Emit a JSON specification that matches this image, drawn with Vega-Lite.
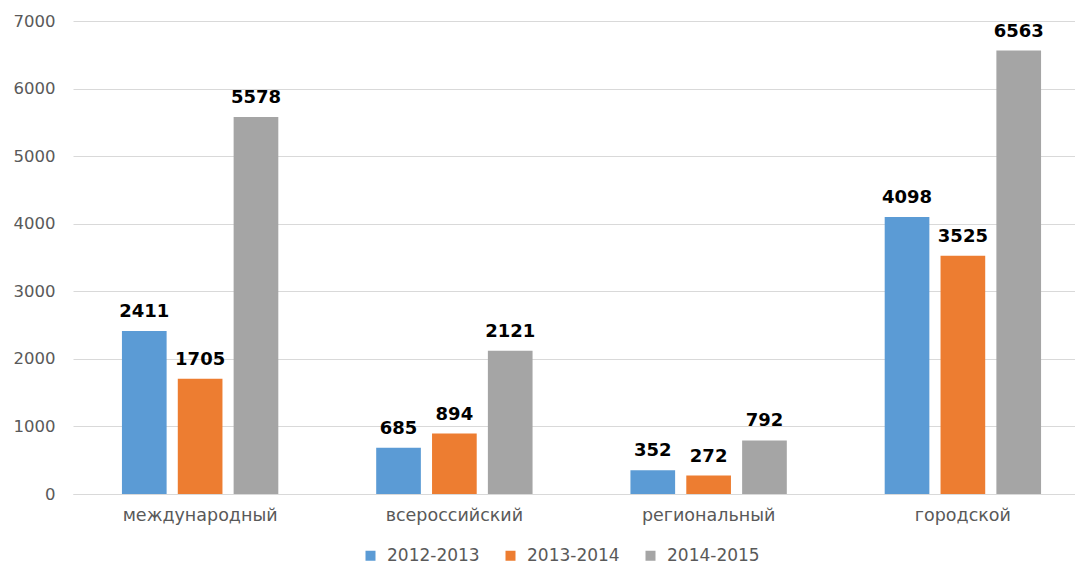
{
  "$schema": "https://vega.github.io/schema/vega-lite/v6.json",
  "autosize": "none",
  "width": 1017,
  "height": 473,
  "padding": {"left": 73, "top": 21, "right": 0, "bottom": 71},
  "background": "white",
  "config": {
    "view": {"stroke": null},
    "font": "DejaVu Sans"
  },
  "data": {
    "values": [
      {"category": "международный", "period": "2012-2013", "value": 2411},
      {"category": "международный", "period": "2013-2014", "value": 1705},
      {"category": "международный", "period": "2014-2015", "value": 5578},
      {"category": "всероссийский", "period": "2012-2013", "value": 685},
      {"category": "всероссийский", "period": "2013-2014", "value": 894},
      {"category": "всероссийский", "period": "2014-2015", "value": 2121},
      {"category": "региональный", "period": "2012-2013", "value": 352},
      {"category": "региональный", "period": "2013-2014", "value": 272},
      {"category": "региональный", "period": "2014-2015", "value": 792},
      {"category": "городской", "period": "2012-2013", "value": 4098},
      {"category": "городской", "period": "2013-2014", "value": 3525},
      {"category": "городской", "period": "2014-2015", "value": 6563}
    ]
  },
  "encoding": {
    "x": {
      "field": "category", "type": "nominal", "sort": null,
      "scale": {"paddingInner": 0.385, "paddingOuter": 0.1925},
      "axis": {"title": null, "labelAngle": 0, "labelFontSize": 17.5, "labelColor": "#595959", "labelPadding": 12, "ticks": false, "domainColor": "#d9d9d9", "domainWidth": 1}
    },
    "xOffset": {"field": "period", "type": "nominal", "scale": {"paddingInner": 0.2}},
    "y": {
      "field": "value", "type": "quantitative",
      "scale": {"domain": [0, 7000]},
      "axis": {"title": null, "format": "d", "values": [0, 1000, 2000, 3000, 4000, 5000, 6000, 7000], "labelFontSize": 16.5, "labelColor": "#595959", "labelPadding": 18, "ticks": false, "domain": false, "gridColor": "#d9d9d9", "gridWidth": 1}
    }
  },
  "layer": [
    {
      "mark": {"type": "bar"},
      "encoding": {
        "color": {
          "field": "period", "type": "nominal",
          "scale": {"domain": ["2012-2013", "2013-2014", "2014-2015"], "range": ["#5B9BD5", "#ED7D31", "#A5A5A5"]},
          "legend": {"title": null, "orient": "none", "direction": "horizontal", "legendX": 289, "legendY": 526, "symbolType": "square", "symbolSize": 100, "labelFontSize": 17, "labelColor": "#595959", "columnPadding": 22, "labelOffset": 8}
        }
      }
    },
    {
      "mark": {"type": "text", "dy": -19, "fontWeight": "bold", "fontSize": 18, "color": "#000000"},
      "encoding": {
        "text": {"field": "value", "type": "quantitative", "format": "d"}
      }
    }
  ]
}
